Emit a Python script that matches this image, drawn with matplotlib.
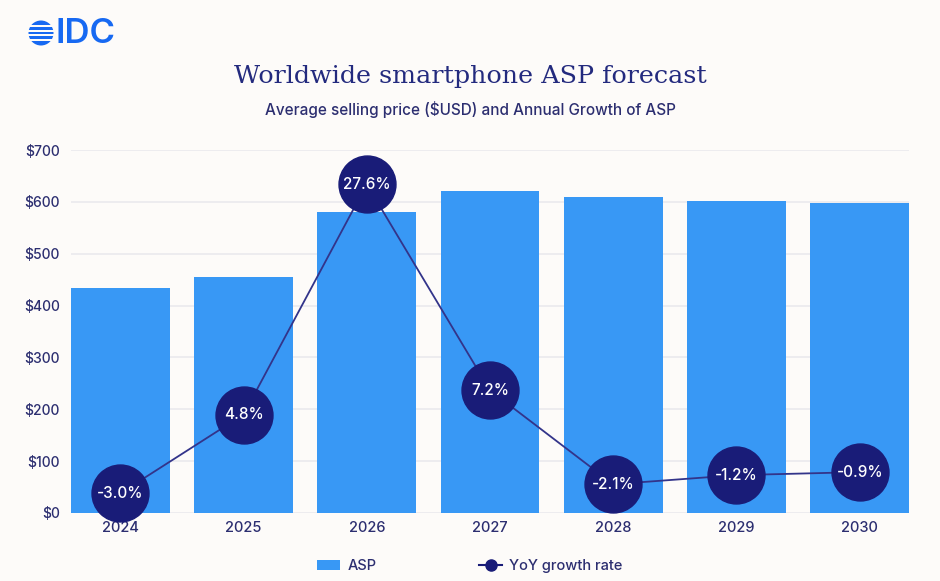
import matplotlib
matplotlib.use("Agg")
import matplotlib.pyplot as plt
from matplotlib.patches import Circle, Rectangle
from matplotlib.lines import Line2D
from matplotlib.patches import Patch

years = ["2024", "2025", "2026", "2027", "2028", "2029", "2030"]
asp = [433, 455, 580, 620, 609, 601, 597]
growth = [-3.0, 4.8, 27.6, 7.2, -2.1, -1.2, -0.9]
growth_labels = ["-3.0%", "4.8%", "27.6%", "7.2%", "-2.1%", "-1.2%", "-0.9%"]
yticks = [0, 100, 200, 300, 400, 500, 600, 700]
ytick_labels = ["$0", "$100", "$200", "$300", "$400", "$500", "$600", "$700"]

BG = "#fdfbf9"
BAR = "#3898f5"
NAVY = "#191c78"
TXT = "#2c2e70"
LINE = "#33348a"

plt.rcParams['font.family'] = ['Inter', 'DejaVu Sans']
plt.rcParams['font.weight'] = 'medium'

fig = plt.figure(figsize=(9.4, 5.81), dpi=100, facecolor=BG)

# background/logo layer in pixel coords
bgax = fig.add_axes([0, 0, 1, 1], zorder=-5)
bgax.set_xlim(0, 940)
bgax.set_ylim(581, 0)
bgax.axis("off")
bgax.set_facecolor(BG)
LOGO = "#1769f2"
cx, cy, r = 41, 33, 12.5
bgax.add_patch(Circle((cx, cy), r, color=LOGO, lw=0))
for yy in [cy - 7, cy - 2.4, cy + 2.4, cy + 7]:
    bgax.add_patch(Rectangle((cx - r - 1, yy - 1.0), 2 * r + 2, 2.0, color=BG, lw=0))
bgax.text(55, 34, "IDC", color=LOGO, fontsize=25, fontweight="semibold",
          va="center", ha="left")

fig.text(0.5, 1 - 77 / 581, "Worldwide smartphone ASP forecast", ha="center", va="center",
         family="DejaVu Serif", fontsize=18.3, fontweight="normal", color="#232a7e")
fig.text(0.5, 1 - 110 / 581, "Average selling price ($USD) and Annual Growth of ASP",
         ha="center", va="center", fontsize=11, color=TXT)

ax = fig.add_axes([71 / 940, 68 / 581, 838 / 940, 363 / 581])
ax.set_facecolor("none")
x = list(range(len(years)))
ax.bar(x, asp, width=0.8, color=BAR, zorder=2)
ax.set_xlim(-0.4, len(years) - 0.6)
ax.set_ylim(0, 700)
ax.set_yticks(yticks)
ax.set_yticklabels(ytick_labels)
ax.set_xticks(x)
ax.set_xticklabels(years)
ax.grid(axis="y", color="#ecebef", lw=1.3, zorder=0)
for s in ax.spines.values():
    s.set_visible(False)
ax.tick_params(axis="both", length=0, colors=TXT, labelsize=10.5)
ax.tick_params(axis="y", pad=8, labelsize=10)
ax.tick_params(axis="x", pad=6)

ax2 = ax.twinx()
ax2.set_ylim(-4.95, 31.0)
ax2.axis("off")
ax2.plot(x, growth, color=LINE, lw=1.3, marker="o", markersize=41,
         markerfacecolor=NAVY, markeredgecolor=NAVY, clip_on=False, zorder=3)
for xi, g, lab in zip(x, growth, growth_labels):
    ax2.text(xi, g, lab, color="white", fontsize=11, ha="center", va="center", zorder=4)

handles = [Patch(facecolor=BAR, edgecolor="none"),
           Line2D([0], [0], color=NAVY, lw=1.5, marker="o", markersize=8,
                  markerfacecolor=NAVY)]
leg = fig.legend(handles, ["ASP", "YoY growth rate"], loc="center",
                 bbox_to_anchor=(0.5, 1 - 566 / 581), ncol=2, frameon=False,
                 fontsize=10.5, columnspacing=7.0, handlelength=1.6, handletextpad=0.5,
                 labelcolor=TXT)

fig.savefig("out.png", dpi=100, facecolor=BG)
